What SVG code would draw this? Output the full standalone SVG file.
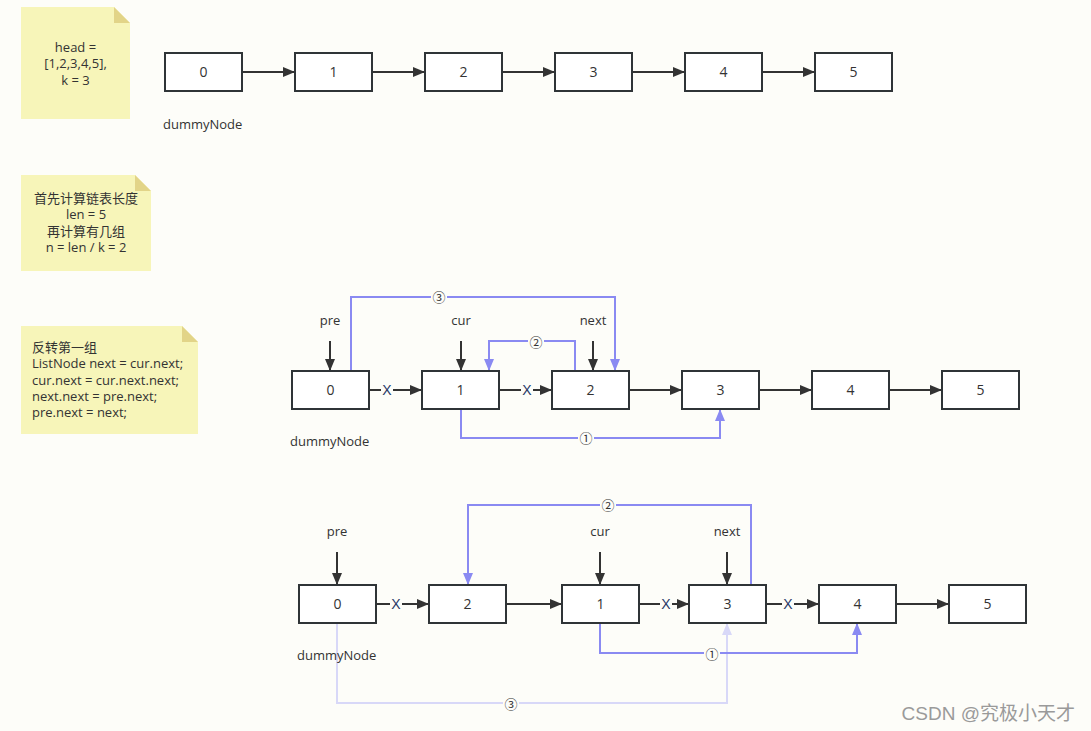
<svg xmlns="http://www.w3.org/2000/svg" width="1091" height="731" viewBox="0 0 1091 731">
<defs>
<style>
.bg{fill:#fdfdf9}
.box{fill:#ffffff;stroke:#2f3437;stroke-width:2}
.t{font-family:"Open Sans","Liberation Sans","Noto Sans CJK SC",sans-serif;font-size:13px;fill:#333333}
.n{font-size:14px}
.c{text-anchor:middle}
.note{fill:#f7f5b9}
.fold{fill:#e2d488}
.k{fill:none;stroke:#333333;stroke-width:2}
.b{fill:none;stroke:#8a8af2;stroke-width:2}
.bl{fill:none;stroke:#d8d8f8;stroke-width:2}
.lab{fill:#fdfdf9}
.num{font-family:"Noto Sans CJK SC","DejaVu Sans",sans-serif;font-size:13px;fill:#333333;text-anchor:middle}
.x{font-family:"Liberation Sans",sans-serif;font-size:14px;fill:#2a3a66;text-anchor:middle}
</style>
<marker id="ak" viewBox="0 0 12 10" refX="12" refY="5" markerWidth="12" markerHeight="10" markerUnits="userSpaceOnUse" orient="auto"><path d="M0,0 L12,5 L0,10 Z" fill="#333333"/></marker>
<marker id="ab" viewBox="0 0 12 10" refX="12" refY="5" markerWidth="12" markerHeight="10" markerUnits="userSpaceOnUse" orient="auto"><path d="M0,0 L12,5 L0,10 Z" fill="#8a8af2"/></marker>
<marker id="al" viewBox="0 0 12 10" refX="12" refY="5" markerWidth="12" markerHeight="10" markerUnits="userSpaceOnUse" orient="auto"><path d="M0,0 L12,5 L0,10 Z" fill="#d8d8f8"/></marker>
</defs>
<rect class="bg" x="0" y="0" width="1091" height="731"/>

<!-- notes -->
<g id="note1">
<path class="note" d="M21,7 H114 L130,23 V119 H21 Z"/>
<path class="fold" d="M114,7 L130,23 H114 Z"/>
<text class="t c" x="75.5" y="52">head =</text>
<text class="t c" x="75.5" y="68">[1,2,3,4,5],</text>
<text class="t c" x="75.5" y="85">k = 3</text>
</g>
<g id="note2">
<path class="note" d="M21,175 H135 L151,191 V271 H21 Z"/>
<path class="fold" d="M135,175 L151,191 H135 Z"/>
<text class="t c" x="86" y="203">首先计算链表长度</text>
<text class="t c" x="86" y="219">len = 5</text>
<text class="t c" x="86" y="236">再计算有几组</text>
<text class="t c" x="86" y="252">n = len / k = 2</text>
</g>
<g id="note3">
<path class="note" d="M21,326 H182 L198,342 V434 H21 Z"/>
<path class="fold" d="M182,326 L198,342 H182 Z"/>
<text class="t" x="32" y="352">反转第一组</text>
<text class="t" x="32" y="368">ListNode next = cur.next;</text>
<text class="t" x="32" y="385">cur.next = cur.next.next;</text>
<text class="t" x="32" y="401">next.next = pre.next;</text>
<text class="t" x="32" y="417">pre.next = next;</text>
</g>

<!-- connectors -->
<g id="connectors">
<!-- row 1 -->
<line class="k" x1="242" y1="72" x2="295" y2="72" marker-end="url(#ak)"/>
<line class="k" x1="372" y1="72" x2="425" y2="72" marker-end="url(#ak)"/>
<line class="k" x1="502" y1="72" x2="555" y2="72" marker-end="url(#ak)"/>
<line class="k" x1="632" y1="72" x2="685" y2="72" marker-end="url(#ak)"/>
<line class="k" x1="762" y1="72" x2="815" y2="72" marker-end="url(#ak)"/>
<!-- row 2 -->
<line class="k" x1="369" y1="390" x2="422" y2="390" marker-end="url(#ak)"/>
<line class="k" x1="499" y1="390" x2="552" y2="390" marker-end="url(#ak)"/>
<line class="k" x1="629" y1="390" x2="682" y2="390" marker-end="url(#ak)"/>
<line class="k" x1="759" y1="390" x2="812" y2="390" marker-end="url(#ak)"/>
<line class="k" x1="889" y1="390" x2="942" y2="390" marker-end="url(#ak)"/>
<line class="k" x1="330" y1="341" x2="330" y2="371" marker-end="url(#ak)"/>
<line class="k" x1="461" y1="341" x2="461" y2="371" marker-end="url(#ak)"/>
<line class="k" x1="593" y1="341" x2="593" y2="371" marker-end="url(#ak)"/>
<path class="b" d="M351,371 V297 H615 V371" marker-end="url(#ab)"/>
<path class="b" d="M575,371 V341 H489 V371" marker-end="url(#ab)"/>
<path class="b" d="M461,409 V438 H720 V409" marker-end="url(#ab)"/>
<rect class="lab" x="381" y="383" width="12" height="14"/>
<text class="x" x="387" y="395">X</text>
<rect class="lab" x="521" y="383" width="12" height="14"/>
<text class="x" x="527" y="395">X</text>
<rect class="lab" x="431" y="290" width="16" height="14"/>
<text class="num" x="439" y="301.5">③</text>
<rect class="lab" x="528" y="335" width="16" height="14"/>
<text class="num" x="536" y="346.5">②</text>
<rect class="lab" x="578" y="431" width="16" height="14"/>
<text class="num" x="586" y="442.5">①</text>
<!-- row 3 -->
<path class="bl" d="M337,623 V703 H727 V623" marker-end="url(#al)"/>
<line class="k" x1="376" y1="604" x2="429" y2="604" marker-end="url(#ak)"/>
<line class="k" x1="506" y1="604" x2="562" y2="604" marker-end="url(#ak)"/>
<line class="k" x1="639" y1="604" x2="689" y2="604" marker-end="url(#ak)"/>
<line class="k" x1="766" y1="604" x2="819" y2="604" marker-end="url(#ak)"/>
<line class="k" x1="896" y1="604" x2="949" y2="604" marker-end="url(#ak)"/>
<line class="k" x1="337" y1="552" x2="337" y2="585" marker-end="url(#ak)"/>
<line class="k" x1="600" y1="552" x2="600" y2="585" marker-end="url(#ak)"/>
<line class="k" x1="727" y1="552" x2="727" y2="585" marker-end="url(#ak)"/>
<path class="b" d="M751,585 V505 H468 V585" marker-end="url(#ab)"/>
<path class="b" d="M600,623 V653 H857 V623" marker-end="url(#ab)"/>
<rect class="lab" x="390" y="597" width="12" height="14"/>
<text class="x" x="396" y="609">X</text>
<rect class="lab" x="660" y="597" width="12" height="14"/>
<text class="x" x="666" y="609">X</text>
<rect class="lab" x="782" y="597" width="12" height="14"/>
<text class="x" x="788" y="609">X</text>
<rect class="lab" x="600" y="498" width="16" height="14"/>
<text class="num" x="608" y="509.5">②</text>
<rect class="lab" x="704" y="647" width="16" height="14"/>
<text class="num" x="712" y="658.5">①</text>
<rect class="lab" x="503" y="697" width="16" height="14"/>
<text class="num" x="511" y="708.5">③</text>
</g>

<!-- row 1 nodes -->
<g id="r1n0"><rect class="box" x="165" y="53" width="77" height="38"/><text class="t c n" x="203.5" y="77">0</text></g>
<g id="r1n1"><rect class="box" x="295" y="53" width="77" height="38"/><text class="t c n" x="333.5" y="77">1</text></g>
<g id="r1n2"><rect class="box" x="425" y="53" width="77" height="38"/><text class="t c n" x="463.5" y="77">2</text></g>
<g id="r1n3"><rect class="box" x="555" y="53" width="77" height="38"/><text class="t c n" x="593.5" y="77">3</text></g>
<g id="r1n4"><rect class="box" x="685" y="53" width="77" height="38"/><text class="t c n" x="723.5" y="77">4</text></g>
<g id="r1n5"><rect class="box" x="815" y="53" width="77" height="38"/><text class="t c n" x="853.5" y="77">5</text></g>
<g id="r1label"><text class="t" x="163" y="129">dummyNode</text></g>

<!-- row 2 nodes -->
<g id="r2n0"><rect class="box" x="292" y="371" width="77" height="38"/><text class="t c n" x="330.5" y="395">0</text></g>
<g id="r2n1"><rect class="box" x="422" y="371" width="77" height="38"/><text class="t c n" x="460.5" y="395">1</text></g>
<g id="r2n2"><rect class="box" x="552" y="371" width="77" height="38"/><text class="t c n" x="590.5" y="395">2</text></g>
<g id="r2n3"><rect class="box" x="682" y="371" width="77" height="38"/><text class="t c n" x="720.5" y="395">3</text></g>
<g id="r2n4"><rect class="box" x="812" y="371" width="77" height="38"/><text class="t c n" x="850.5" y="395">4</text></g>
<g id="r2n5"><rect class="box" x="942" y="371" width="77" height="38"/><text class="t c n" x="980.5" y="395">5</text></g>
<g id="r2labels">
<text class="t" x="290" y="446">dummyNode</text>
<text class="t c" x="330" y="325">pre</text>
<text class="t c" x="461" y="325">cur</text>
<text class="t c" x="593" y="325">next</text>
</g>

<!-- row 3 nodes -->
<g id="r3n0"><rect class="box" x="299" y="585" width="77" height="38"/><text class="t c n" x="337.5" y="609">0</text></g>
<g id="r3n2"><rect class="box" x="429" y="585" width="77" height="38"/><text class="t c n" x="467.5" y="609">2</text></g>
<g id="r3n1"><rect class="box" x="562" y="585" width="77" height="38"/><text class="t c n" x="600.5" y="609">1</text></g>
<g id="r3n3"><rect class="box" x="689" y="585" width="77" height="38"/><text class="t c n" x="727.5" y="609">3</text></g>
<g id="r3n4"><rect class="box" x="819" y="585" width="77" height="38"/><text class="t c n" x="857.5" y="609">4</text></g>
<g id="r3n5"><rect class="box" x="949" y="585" width="77" height="38"/><text class="t c n" x="987.5" y="609">5</text></g>
<g id="r3labels">
<text class="t" x="297" y="660">dummyNode</text>
<text class="t c" x="337" y="536">pre</text>
<text class="t c" x="600" y="536">cur</text>
<text class="t c" x="727" y="536">next</text>
</g>

<g id="watermark"><text x="1075" y="720" text-anchor="end" font-family="'Liberation Sans','Noto Sans CJK SC',sans-serif" font-size="19" fill="#9a9a9a">CSDN @究极小天才</text></g>
</svg>
